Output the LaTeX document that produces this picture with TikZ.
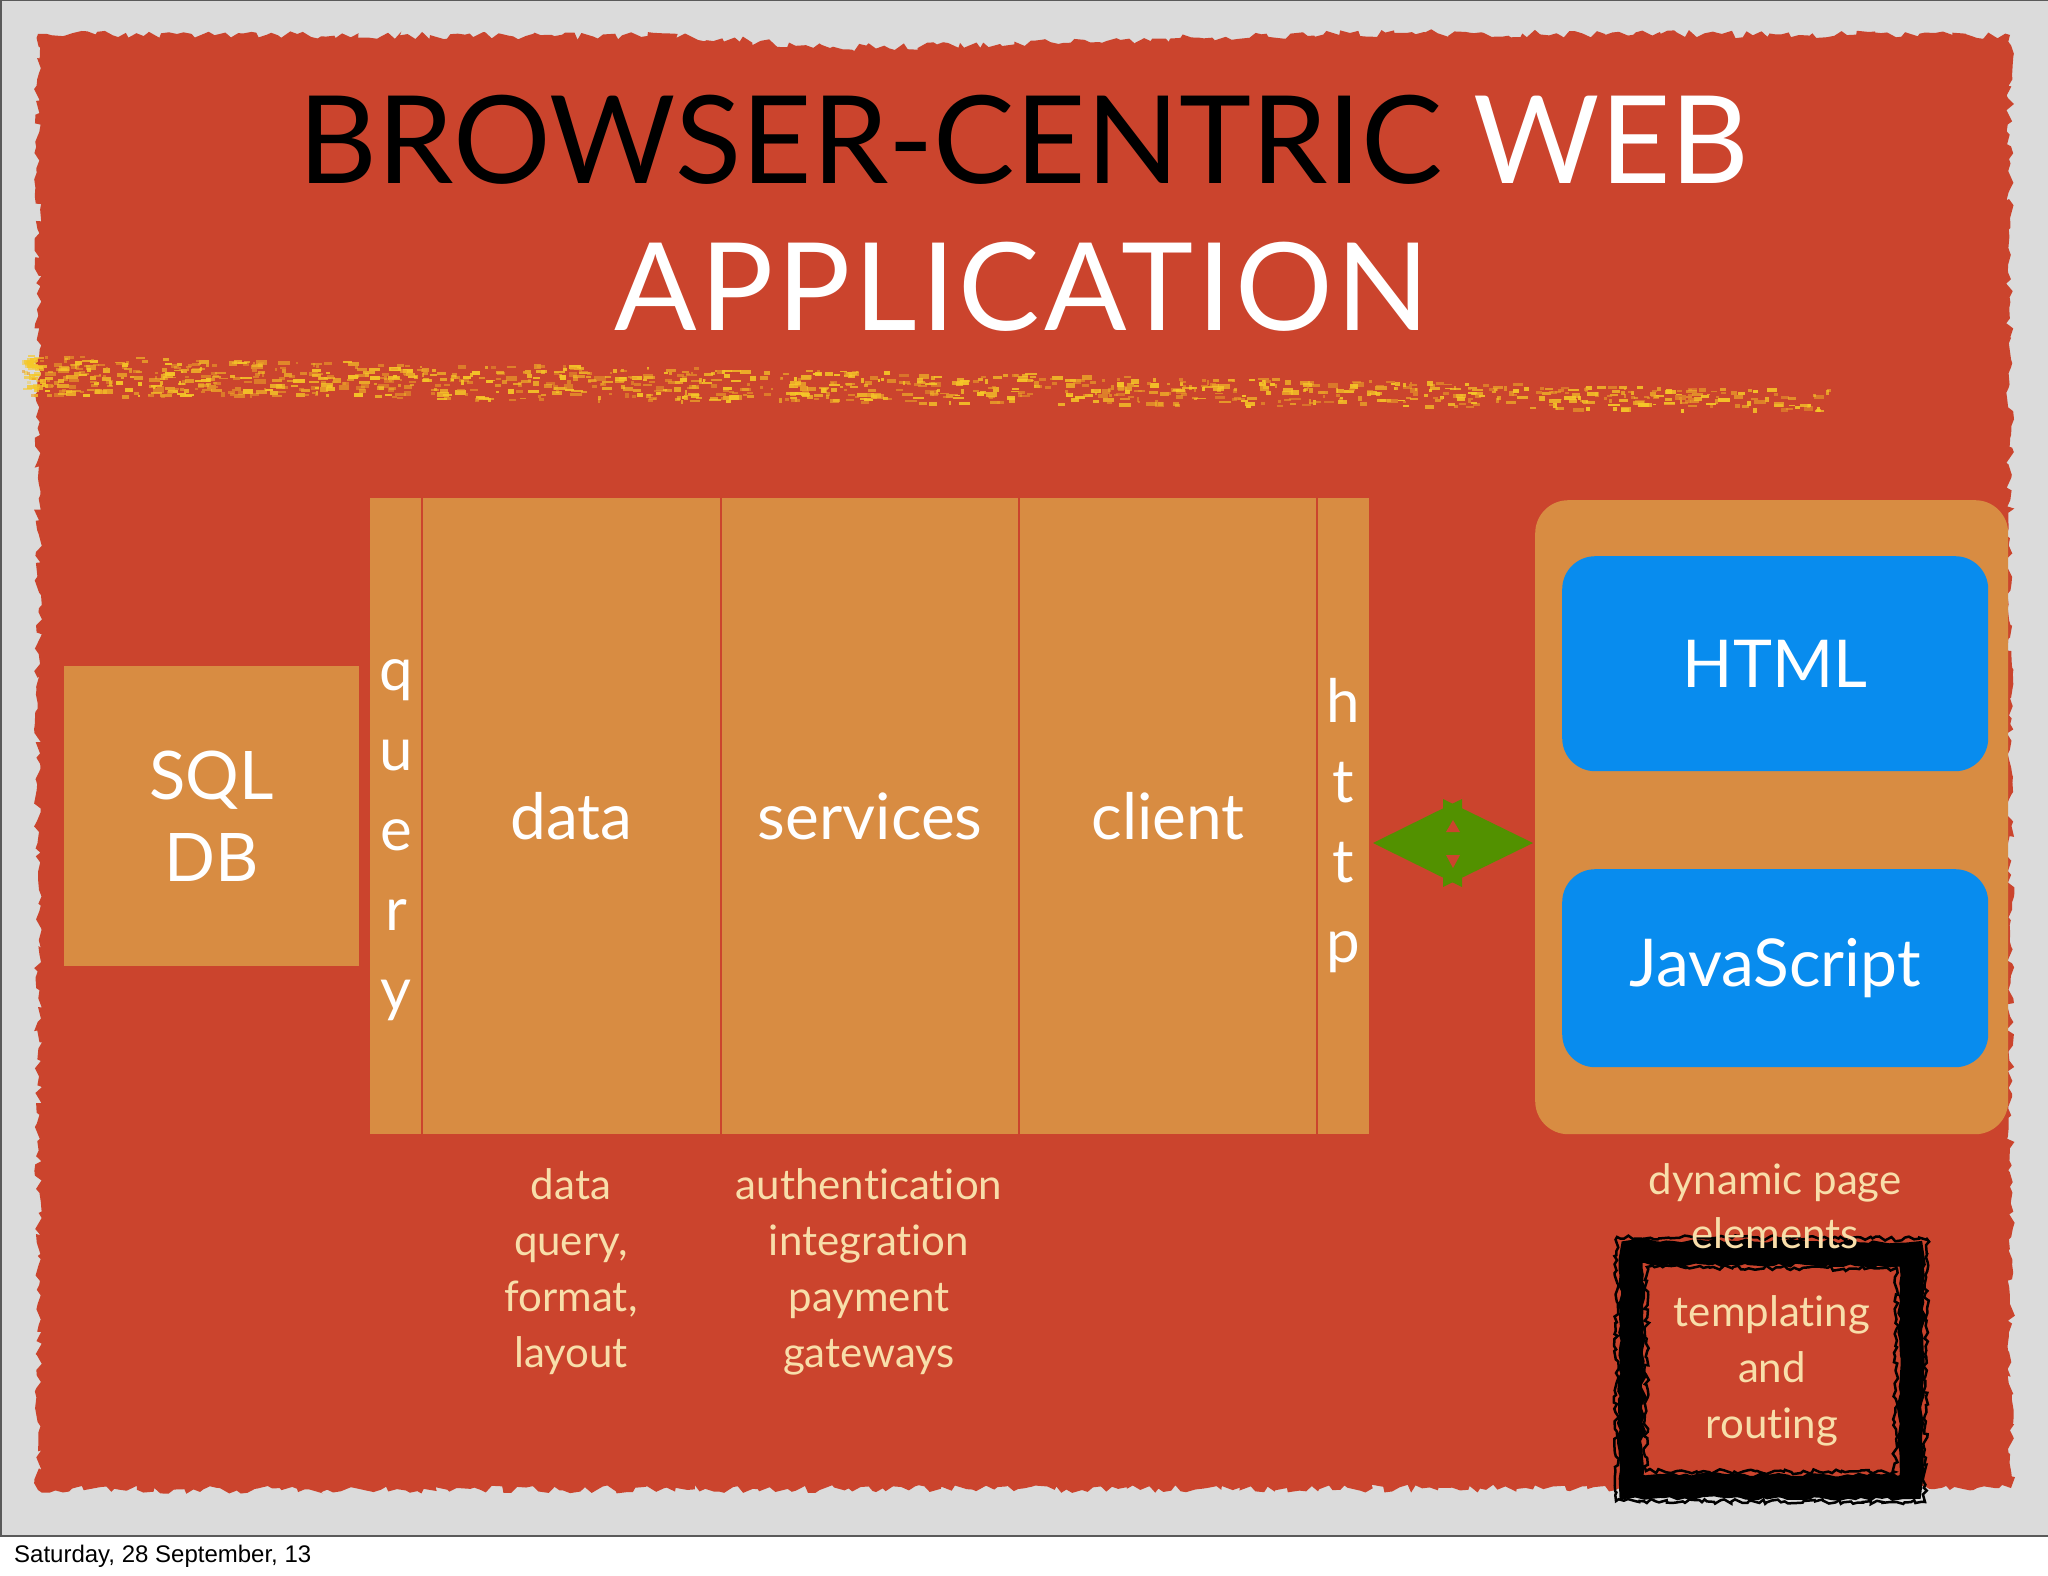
\documentclass[tikz,border=0pt]{standalone}
\usepackage{fontspec}
\setmainfont{Lato}[Ligatures={NoCommon}]
\newfontfamily\arialf{Liberation Sans}
\usetikzlibrary{decorations.pathmorphing,calc}
\definecolor{slidegray}{RGB}{219,219,219}
\definecolor{paint}{RGB}{203,68,45}
\definecolor{ochre}{RGB}{216,140,66}
\definecolor{skyblue}{RGB}{8,140,238}
\definecolor{leaf}{RGB}{82,145,0}
\definecolor{cream}{RGB}{248,222,170}
\definecolor{streak}{RGB}{246,200,40}
\definecolor{streakb}{RGB}{236,160,40}
\definecolor{edgegray}{RGB}{90,90,90}
\begin{document}
\begin{tikzpicture}[x=1pt,y=-1pt,
  layer/.style={fill=ochre, draw=none, minimum height=636pt, inner sep=0pt, anchor=north west,
    text=white, font=\fontsize{64}{66}\selectfont},
  vlet/.style={text=white, font=\fontsize{60}{62}\selectfont, inner sep=0pt, anchor=base},
  divider/.style={draw=paint, line width=2pt},
  bluebox/.style={fill=skyblue, rounded corners=33pt, inner sep=0pt, anchor=north west,
    minimum width=426pt, text=white, font=\fontsize{66}{68}\selectfont},
  caption/.style={text=cream, align=center, inner sep=0pt, font=\fontsize{42}{56}\selectfont},
  titletext/.style={inner sep=0pt, anchor=base, font=\fontsize{122}{124}\selectfont}]
\useasboundingbox (0,0) rectangle (2048,1576);
% slide background and footer
\fill[white] (0,0) rectangle (2048,1576);
\fill[slidegray] (0,0) rectangle (2048,1536);
\draw[edgegray, line width=2pt] (0,1536) -- (2048,1536);
\draw[edgegray, line width=1.5pt] (0.75,0) -- (0.75,1536);
\draw[edgegray, line width=1.5pt] (0,0.75) -- (2048,0.75);
% painted red area
\pgfmathsetseed{11}
\fill[paint, decorate, decoration={random steps, segment length=6pt, amplitude=4pt}]
  (38,34) -- (690,36) -- (830,48) -- (1000,44) -- (1350,33) -- (2010,35) -- (2011,1488) -- (38,1490) -- cycle;
% yellow streak
\pgfmathsetseed{7}
\foreach \i in {1,...,900}{
  \pgfmathsetmacro{\px}{22+1810*(rnd^1.3)}
  \pgfmathsetmacro{\py}{374+0.014*\px+(40-0.01*\px)*(rnd-0.5)}
  \pgfmathsetmacro{\pw}{2+10*rnd}
  \pgfmathsetmacro{\ph}{1.5+3.5*rnd}
  \pgfmathsetmacro{\op}{0.35+0.6*rnd}
  \fill[streak, opacity=\op] (\px,\py) rectangle ++(\pw,\ph);
}
\foreach \i in {1,...,250}{
  \pgfmathsetmacro{\px}{22+1810*(rnd^1.3)}
  \pgfmathsetmacro{\py}{374+0.014*\px+(40-0.01*\px)*(rnd-0.5)}
  \pgfmathsetmacro{\pw}{2+6*rnd}
  \fill[streakb, opacity=0.6] (\px,\py) rectangle ++(\pw,2.5);
}
% title
\node[titletext] (title1) at (1024,183) {\textcolor{black}{BROWSER-CENTRIC} \textcolor{white}{WEB}};
\node[titletext, text=white] (title2) at (1022,330) {\addfontfeatures{LetterSpace=3}APPLICATION};
% SQL DB
\node[fill=ochre, minimum width=295pt, minimum height=300pt, anchor=north west, inner sep=0pt,
  text=white, align=center, font=\fontsize{67}{82}\selectfont] (sql) at (64,666) {SQL\\DB};
% layered stack
\node[layer, minimum width=52pt] (query) at (370,498) {};
\node[layer, minimum width=299pt] (data) at (422,498) {data};
\node[layer, minimum width=298pt] (services) at (721,498) {services};
\node[layer, minimum width=298pt] (client) at (1019,498) {client};
\node[layer, minimum width=52pt] (http) at (1317,498) {};
\draw[divider] (query.north east) -- (query.south east);
\draw[divider] (data.north east) -- (data.south east);
\draw[divider] (services.north east) -- (services.south east);
\draw[divider] (client.north east) -- (client.south east);
\foreach \ch [count=\i] in {q,u,e,r,y}
  \node[vlet] (q\i) at ({396},{690+80*(\i-1)}) {\ch};
\foreach \ch [count=\i] in {h,t,t,p}
  \node[vlet] (h\i) at ({1343},{722+80*(\i-1)}) {\ch};
% browser panel
\node[fill=ochre, rounded corners=33pt, minimum width=473pt, minimum height=634pt,
  anchor=north west, inner sep=0pt] (panel) at (1535,500) {};
\node[bluebox, minimum height=215pt] (html) at (1562,556) {HTML};
\node[bluebox, minimum height=198pt] (js) at (1562,869) {JavaScript};
% green double arrow between stack and panel
\coordinate (arrL) at (1373,843);
\coordinate (arrR) at (1533,843);
\fill[leaf] (arrL) -- ($(arrL)+(89,-44)$) -- ($(arrL)+(89,44)$) -- cycle;
\fill[leaf] (arrR) -- ($(arrR)+(-90,-44)$) -- ($(arrR)+(-90,44)$) -- cycle;
\fill[paint] ($(arrL)!0.5!(arrR)+(0,-23)$) -- ($(arrL)!0.5!(arrR)+(-7,-11)$) -- ($(arrL)!0.5!(arrR)+(7,-11)$) -- cycle;
\fill[paint] ($(arrL)!0.5!(arrR)+(0,25)$) -- ($(arrL)!0.5!(arrR)+(-7,12)$) -- ($(arrL)!0.5!(arrR)+(7,12)$) -- cycle;
% rough black frame
\pgfmathsetseed{3}
\draw[black, line width=24pt, decorate, decoration={random steps, segment length=7pt, amplitude=2pt}]
  (1632,1252) -- (1912,1254) -- (1910,1487) -- (1631,1486) -- cycle;
\foreach \d in {-15,15}{
  \draw[black, line width=2.5pt, decorate, decoration={random steps, segment length=4pt, amplitude=2.5pt}]
    ($(1632,1252)+(\d,\d)$) -- ($(1912,1254)+(-\d,\d)$) -- ($(1910,1487)+(-\d,-\d)$) -- ($(1631,1486)+(\d,-\d)$) -- cycle;
}
% captions
\node[caption] (datacap) at (571,1272) {data\\query,\\format,\\layout};
\node[caption] (servcap) at (869,1272) {authentication\\integration\\payment\\gateways};
\node[caption, font=\fontsize{42}{54}\selectfont] (dyncap) at (1775,1206) {dynamic page\\elements};
\node[caption] (tplcap) at (1772,1371) {templating\\and\\routing};
% footer
\node[anchor=base west, inner sep=0pt, font=\arialf\fontsize{24}{26}\selectfont] (footer) at (14,1562) {Saturday, 28 September, 13};
\end{tikzpicture}
\end{document}
